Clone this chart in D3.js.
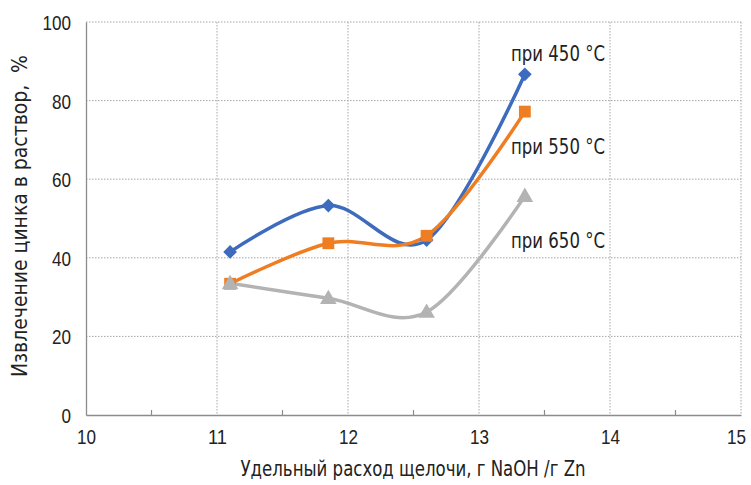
<!DOCTYPE html>
<html><head><meta charset="utf-8">
<script src="https://cdn.jsdelivr.net/npm/d3@7"></script>
<style>body{margin:0;background:#fff}svg{display:block}text{font-family:"DejaVu Sans Condensed","DejaVu Sans",sans-serif;font-stretch:condensed;fill:#222}</style>
</head><body><svg id="c" width="751" height="485"></svg>
<script>
const xVals = [11.1, 11.85, 12.6, 13.35];
const s450 = [41.5, 53.3, 44.5, 86.7];
const s550 = [33.4, 43.7, 45.6, 77.2];
const s650 = [33.5, 29.7, 26.2, 55.7];
const seriesNames = ["при 450 °C", "при 550 °C", "при 650 °C"];
const xTicks = [10, 11, 12, 13, 14, 15];
const yTicks = [0, 20, 40, 60, 80, 100];
const xTitle = "Удельный расход щелочи, г NaOH /г Zn";
const yTitle = "Извлечение цинка в раствор,  %";

const svg = d3.select("#c");
const L = 86, R = 741, T = 22, B = 415;
const x = d3.scaleLinear().domain([10, 15]).range([L, R]);
const y = d3.scaleLinear().domain([0, 100]).range([B, T]);
const fmt = d3.format("d");

// grid
svg.append("g").selectAll("line").data(yTicks.filter(d => d > 0)).join("line")
  .attr("x1", L).attr("x2", R).attr("y1", d => y(d)).attr("y2", d => y(d))
  .attr("stroke", "#a6a6a6").attr("stroke-width", 1).attr("stroke-dasharray", "1.5,1.5");
svg.append("g").selectAll("line").data(xTicks.filter(d => d > 10)).join("line")
  .attr("x1", d => x(d)).attr("x2", d => x(d)).attr("y1", T).attr("y2", B)
  .attr("stroke", "#a6a6a6").attr("stroke-width", 1).attr("stroke-dasharray", "1.5,1.5");

// axes
const xAxis = d3.axisBottom(x).tickValues(xTicks).tickFormat(fmt).tickSize(0).tickPadding(14);
const gx = svg.append("g").attr("transform", `translate(0,${B})`).call(xAxis);
gx.select(".domain").attr("stroke", "#8c8c8c").attr("stroke-width", 1.3);
gx.selectAll("text").attr("font-size", 21).attr("fill", "#222")
  .attr("dx", d => d === 15 ? -5 : 0)
  .attr("textLength", d => String(d).length * 9.5).attr("lengthAdjust", "spacingAndGlyphs");
svg.append("g").selectAll("line").data(d3.range(10.5, 15, 1)).join("line")
  .attr("x1", d => x(d)).attr("x2", d => x(d)).attr("y1", B).attr("y2", B - 5)
  .attr("stroke", "#8c8c8c").attr("stroke-width", 1.2);

const yAxis = d3.axisLeft(y).tickValues(yTicks).tickFormat(fmt).tickSize(0).tickPadding(15);
const gy = svg.append("g").attr("transform", `translate(${L},0)`).call(yAxis);
gy.select(".domain").attr("stroke", "#8c8c8c").attr("stroke-width", 1.3);
gy.selectAll("text").attr("font-size", 21).attr("fill", "#222").attr("dy", "0.36em")
  .attr("textLength", d => String(d).length * 9.5).attr("lengthAdjust", "spacingAndGlyphs");
svg.selectAll(".tick text").style("font-family", "inherit");

svg.append("text").attr("x", 413).attr("y", 476).attr("text-anchor", "middle")
  .attr("font-size", 22).attr("textLength", 345).attr("lengthAdjust", "spacingAndGlyphs").text(xTitle);
svg.append("text").attr("transform", `translate(27,216) rotate(-90)`)
  .attr("text-anchor", "middle").attr("font-size", 22).style("white-space", "pre")
  .attr("textLength", 322).attr("lengthAdjust", "spacingAndGlyphs").text(yTitle);

// series
const colors = ["#3d6bbd", "#ef7d22", "#b3b3b3"];
const data = [s450, s550, s650];
const line = d3.line().x((d, i) => x(xVals[i])).y(d => y(d)).curve(d3.curveCatmullRom.alpha(0));
data.forEach((s, k) => {
  svg.append("path").datum(s).attr("d", line).attr("fill", "none")
    .attr("stroke", colors[k]).attr("stroke-width", 3.5);
});
const symTypes = [d3.symbolDiamond2, d3.symbolSquare, d3.symbolTriangle];
const symSizes = [120, 140, 120];
data.forEach((s, k) => {
  svg.append("g").selectAll("path").data(s).join("path")
    .attr("transform", (d, i) => `translate(${x(xVals[i])},${y(d) + (k === 2 ? 1 : 0)})`)
    .attr("d", d3.symbol().type(symTypes[k]).size(symSizes[k]))
    .attr("fill", colors[k]);
});

// labels
const labelY = [61, 154, 248];
seriesNames.forEach((n, k) => {
  svg.append("text").attr("x", 605).attr("y", labelY[k]).attr("text-anchor", "end")
    .attr("font-size", 22).attr("textLength", 94).attr("lengthAdjust", "spacingAndGlyphs").text(n);
});
</script></body></html>
